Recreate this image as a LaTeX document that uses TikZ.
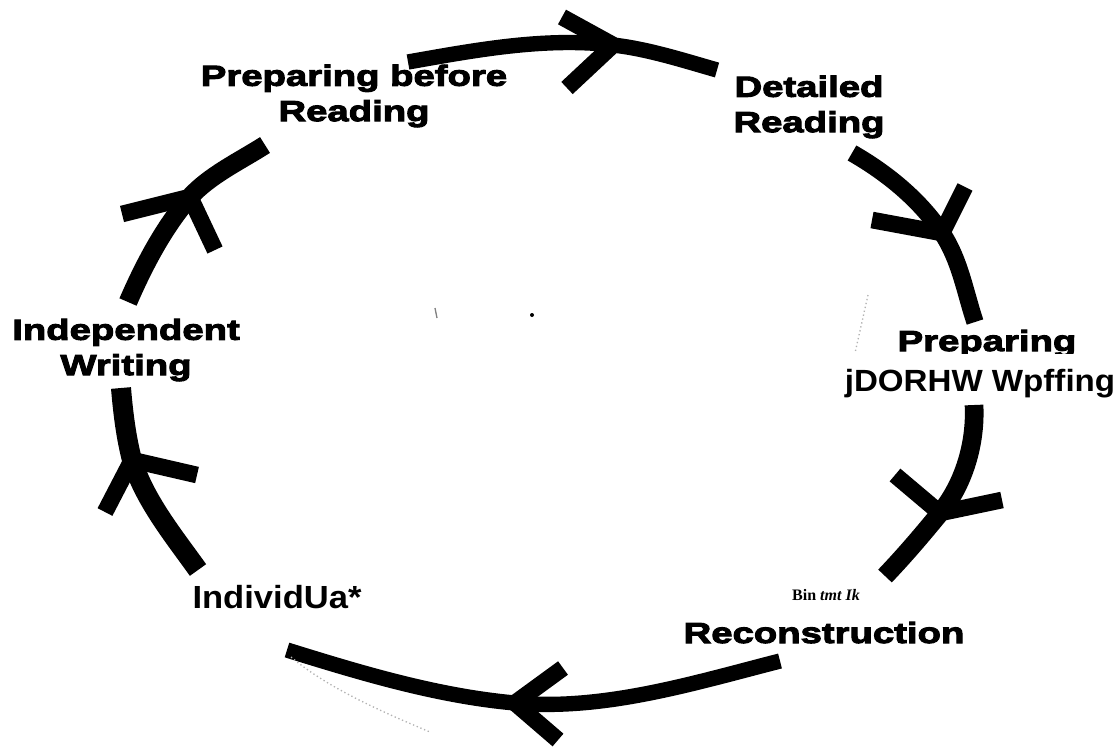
\documentclass[tikz,border=0pt]{standalone}
\usepackage{fontspec}
\setmainfont{Liberation Serif}
\newfontfamily\blurfont[FakeStretch=1.32,FakeBold=3.5]{Liberation Sans Bold}
\newfontfamily\printfont[FakeStretch=1.08]{Liberation Sans Bold}
\begin{document}
\begin{tikzpicture}[x=0.75pt, y=-0.75pt, stage label/.style={font=\blurfont\fontsize{21.75pt}{26.5pt}\selectfont, align=center, inner sep=0pt},print label/.style={font=\printfont\fontsize{23pt}{27pt}\selectfont, inner sep=0pt},note label/.style={font=\bfseries\fontsize{12pt}{14pt}\selectfont, inner sep=0pt},cycle arc/.style={line width=11.5pt, line cap=butt},barb/.style={line width=12.5pt, line cap=butt, line join=round},speck/.style={gray!60, line width=1pt, dotted}]%
\path[use as bounding box] (0,0) rectangle (1120,747);%
  % Stage labels%
\node[stage label] (before reading) at (354,96) {Preparing before\\Reading};%
\node[stage label] (detailed reading) at (809,107) {Detailed\\Reading};%
\node[stage label, anchor=base] (preparing) at (987,351) {Preparing};%
\node[print label, anchor=base, fill=white, inner ysep=11pt] (preparing writing) at (980,391) {jDORHW Wpffing};%
\node[note label, anchor=base] (bin note) at (826,600) {Bin \textit{tmt Ik}};%
\node[stage label, anchor=base] (reconstruction) at (824,643) {Reconstruction};%
\node[print label, anchor=base, font=\printfont\fontsize{24pt}{28pt}\selectfont] (individual) at (277,608) {IndividUa*};%
\node[stage label] (independent writing) at (126,350) {Independent\\Writing};%
  % Top arc%
\coordinate (top start) at (408,62);%
\coordinate (top tip) at (613,45);%
\coordinate (top end) at (717,70);%
\coordinate (top barb a) at (562,17);%
\coordinate (top barb b) at (567,88);%
\draw[cycle arc] (top start) .. controls (476,50) and (545,37) .. (top tip) .. controls (648,49) and (682,60) .. (top end);%
\draw[barb] (top barb a) -- (top tip) -- (top barb b);%
  % Upper right arc%
\coordinate (ur start) at (852,153);%
\coordinate (ur tip) at (942,233);%
\coordinate (ur end) at (975,322);%
\coordinate (ur barb a) at (965,187);%
\coordinate (ur barb b) at (872,220);%
\draw[cycle arc, line width=13pt] (ur start) .. controls (887,173) and (920,200) .. (ur tip) .. controls (960,260) and (965,292) .. (ur end);%
\draw[barb] (ur barb a) -- (ur tip) -- (ur barb b);%
  % Lower right arc%
\coordinate (lr start) at (974,405);%
\coordinate (lr tip) at (940,513);%
\coordinate (lr end) at (885,576);%
\coordinate (lr barb a) at (895,475);%
\coordinate (lr barb b) at (1002,500);%
\draw[cycle arc, line width=14pt] (lr start) .. controls (976,443) and (964,484) .. (lr tip) .. controls (922,535) and (905,555) .. (lr end);%
\draw[barb] (lr barb a) -- (lr tip) -- (lr barb b);%
  % Bottom arc%
\coordinate (bottom start) at (780,661);%
\coordinate (bottom tip) at (515,703);%
\coordinate (bottom end) at (287,650);%
\coordinate (bottom barb a) at (563,668);%
\coordinate (bottom barb b) at (558,740);%
\draw[cycle arc] (bottom start) .. controls (694,683) and (604,711) .. (bottom tip) .. controls (437,696) and (361,673) .. (bottom end);%
\draw[barb] (bottom barb a) -- (bottom tip) -- (bottom barb b);%
  % Lower left arc%
\coordinate (ll start) at (198,570);%
\coordinate (ll tip) at (132,460);%
\coordinate (ll end) at (121,388);%
\coordinate (ll barb a) at (105,512);%
\coordinate (ll barb b) at (197,475);%
\draw[cycle arc, line width=15pt] (ll start) .. controls (173,535) and (145,501) .. (ll tip) .. controls (126,437) and (123,412) .. (ll end);%
\draw[barb] (ll barb a) -- (ll tip) -- (ll barb b);%
  % Upper left arc%
\coordinate (ul start) at (128,302);%
\coordinate (ul tip) at (190,197);%
\coordinate (ul end) at (265,145);%
\coordinate (ul barb a) at (122,214);%
\coordinate (ul barb b) at (215,250);%
\draw[cycle arc, line width=14pt] (ul start) .. controls (144,265) and (164,227) .. (ul tip) .. controls (210,175) and (240,161) .. (ul end);%
\draw[barb] (ul barb a) -- (ul tip) -- (ul barb b);%
  % Scan specks%
\draw[speck] (868,295) -- (855,353);%
\draw[speck] (291,657) .. controls (330,690) and (390,715) .. (430,732);%
\draw[gray, line width=1pt] (435,308) -- (437,318);%
\fill (532,315) circle[radius=1.5pt];%
\end{tikzpicture}
\end{document}
